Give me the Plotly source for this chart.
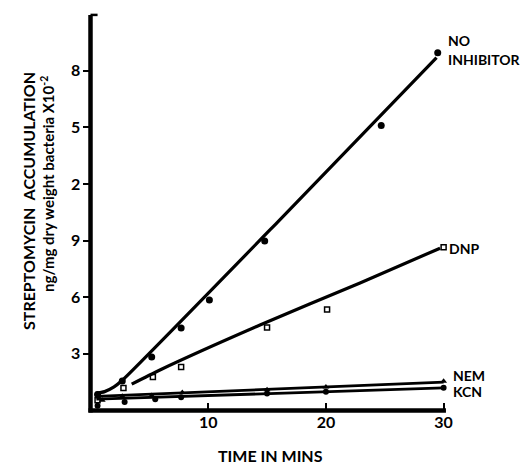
import plotly.graph_objects as go

# ---- data ----
time_no_inhib = [0.6, 2.7, 5.2, 7.7, 10.1, 14.8, 24.7, 29.5]
acc_no_inhib = [0.85, 1.56, 2.84, 4.37, 5.86, 8.98, 15.1, 18.95]
fit_no_inhib_x = [0.4, 1.2, 2.0, 2.7, 16.0, 29.4]
fit_no_inhib_y = [0.9, 1.0, 1.25, 1.6, 10.05, 18.7]

time_dnp = [0.6, 2.8, 5.3, 7.7, 15.0, 20.1, 30.0]
acc_dnp = [0.55, 1.19, 1.78, 2.3, 4.4, 5.35, 8.65]
fit_dnp_x = [3.5, 5.9, 14.4, 22.9, 29.7]
fit_dnp_y = [1.4, 2.15, 4.53, 6.76, 8.6]

time_nem = [1.0, 2.7, 5.2, 7.8, 15.0, 20.0, 30.0]
acc_nem = [0.55, 0.75, 0.8, 0.95, 1.1, 1.25, 1.55]
fit_nem_x = [0.5, 30.0]
fit_nem_y = [0.75, 1.5]

time_kcn = [0.6, 2.9, 5.5, 7.7, 15.0, 20.0, 30.0]
acc_kcn = [0.25, 0.45, 0.6, 0.7, 0.9, 1.0, 1.2]
fit_kcn_x = [0.5, 30.0]
fit_kcn_y = [0.6, 1.2]

x_ticks = [10, 20, 30]
x_tick_text = ["10", "20", "30"]
y_ticks = [3, 6, 9, 12, 15, 18]
y_tick_text = ["3", "6", "9", "2", "5", "8"]

labels = [("NO", 30.2, 19.6), ("INHIBITOR", 30.2, 18.6), ("DNP", 30.3, 8.56),
          ("NEM", 30.6, 1.85), ("KCN", 30.6, 1.0)]

FONT = "Lato"
W, H = 524, 466
L, R, T, B = 80, 0, 0, 48
PW, PH = W - L - R, H - T - B
X_MIN, X_MAX = -0.892, 36.83
Y_MIN, Y_MAX = -0.397, 21.75
Y_TOP = 20.96
X_END = 30.2


def xpx(v):
    return (v - X_MIN) / (X_MAX - X_MIN)


def ypx(v):
    return (v - Y_MIN) / (Y_MAX - Y_MIN)


fig = go.Figure()

# fitted curves
fig.add_trace(go.Scatter(x=fit_no_inhib_x, y=fit_no_inhib_y, mode="lines",
                         line=dict(color="black", width=3.2, shape="spline", smoothing=0.6),
                         hoverinfo="skip"))
fig.add_trace(go.Scatter(x=fit_dnp_x, y=fit_dnp_y, mode="lines",
                         line=dict(color="black", width=3.2, shape="spline", smoothing=0.6),
                         hoverinfo="skip"))
fig.add_trace(go.Scatter(x=fit_nem_x, y=fit_nem_y, mode="lines",
                         line=dict(color="black", width=2.8), hoverinfo="skip"))
fig.add_trace(go.Scatter(x=fit_kcn_x, y=fit_kcn_y, mode="lines",
                         line=dict(color="black", width=2.8), hoverinfo="skip"))

# data points
fig.add_trace(go.Scatter(x=time_no_inhib, y=acc_no_inhib, mode="markers", cliponaxis=False,
                         marker=dict(symbol="circle", size=7, color="black")))
fig.add_trace(go.Scatter(x=time_dnp, y=acc_dnp, mode="markers", cliponaxis=False,
                         marker=dict(symbol="square-open", size=5, color="black",
                                     line=dict(width=1.5, color="black"))))
fig.add_trace(go.Scatter(x=time_nem, y=acc_nem, mode="markers", cliponaxis=False,
                         marker=dict(symbol="triangle-up", size=6, color="black")))
fig.add_trace(go.Scatter(x=time_kcn, y=acc_kcn, mode="markers", cliponaxis=False,
                         marker=dict(symbol="circle", size=6, color="black")))

# axis lines
shapes = [
    dict(type="line", xref="x", yref="y", x0=0, x1=0, y0=-0.1, y1=Y_TOP,
         line=dict(color="black", width=4.5)),
    dict(type="line", xref="x", yref="y", x0=-0.17, x1=X_END, y0=0, y1=0,
         line=dict(color="black", width=4.5)),
    dict(type="line", xref="x", yref="y", x0=0, x1=0.6, y0=Y_TOP, y1=Y_TOP,
         line=dict(color="black", width=2.5)),
]

annotations = []
for text, x, y in labels:
    annotations.append(dict(text=text, x=x, y=y, xref="x", yref="y", xanchor="left",
                            yanchor="middle", showarrow=False,
                            font=dict(family=FONT, size=14, color="black", weight="bold")))

# axis titles
annotations.append(dict(text="STREPTOMYCIN  ACCUMULATION", xref="paper", yref="paper",
                        x=(28 - L) / PW, y=(H - B - 201) / PH, textangle=-90,
                        showarrow=False, xanchor="center", yanchor="middle",
                        font=dict(family=FONT, size=16, color="black", weight="bold")))
annotations.append(dict(text="ng/mg dry weight bacteria X10<sup>-2</sup>", xref="paper",
                        yref="paper", x=(48 - L) / PW, y=(H - B - 184) / PH, textangle=-90,
                        showarrow=False, xanchor="center", yanchor="middle",
                        font=dict(family=FONT, size=15, color="black", weight="bold")))
annotations.append(dict(text="TIME IN MINS", xref="paper", yref="paper",
                        x=(270 - L) / PW, y=(H - B - 455) / PH, showarrow=False,
                        xanchor="center", yanchor="middle",
                        font=dict(family=FONT, size=16, color="black", weight="bold")))

fig.update_layout(
    width=W, height=H,
    margin=dict(l=L, r=R, t=T, b=B),
    paper_bgcolor="white", plot_bgcolor="white",
    showlegend=False,
    shapes=shapes,
    annotations=annotations,
    xaxis=dict(range=[X_MIN, X_MAX], anchor="free", position=ypx(0),
               tickvals=x_ticks, ticktext=x_tick_text, ticks="inside", ticklen=8,
               tickwidth=2, tickcolor="black", showgrid=False, zeroline=False,
               showline=False,
               tickfont=dict(family=FONT, size=16, color="black", weight="bold")),
    yaxis=dict(range=[Y_MIN, Y_MAX], anchor="free", position=xpx(0),
               tickvals=y_ticks, ticktext=y_tick_text, ticks="outside", ticklen=7,
               tickwidth=2, tickcolor="black", showgrid=False, zeroline=False,
               showline=False,
               tickfont=dict(family=FONT, size=16, color="black", weight="bold")),
)

fig.write_html("out.html")
